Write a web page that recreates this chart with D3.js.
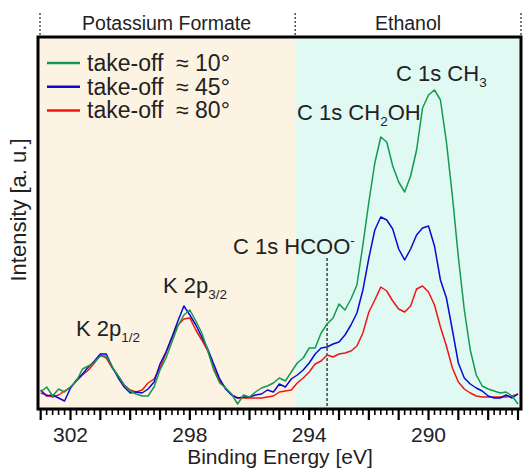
<!DOCTYPE html>
<html><head><meta charset="utf-8">
<script src="https://cdn.jsdelivr.net/npm/d3@7"></script>
<style>
html,body{margin:0;padding:0;background:#fff;}
svg{display:block;font-family:"Liberation Sans",Arial,sans-serif;}
</style></head>
<body><svg id="c" width="525" height="471"></svg>
<script>
// Binding energy grid (eV), 0.2 eV steps from 303.0 to 287.0
const energy = d3.range(0, 81).map(i => +(303.0 - 0.2 * i).toFixed(1));
const green10 = [17,22,13,20,17,22,28,40,43,47,53,53,42,33,24,18,15,13,13,22,39,51,67,83,94,99,88,76,59,39,26,21,15,5,14,12,17,21,23,26,31,28,37,46,51,61,61,76,85,91,105,99,110,124,164,207,246,272,267,243,227,217,233,259,301,314,319,309,267,213,152,99,59,34,23,20,18,16,17,13,5];
const blue45 = [19,13,14,11,8,21,29,35,42,48,55,55,42,31,22,16,17,16,20,27,45,57,72,88,103,94,84,72,60,45,30,20,14,11,12,12,14,15,19,17,25,22,30,34,39,46,55,61,62,65,67,74,84,96,119,151,179,192,189,180,160,149,160,174,181,183,163,129,111,79,46,31,25,21,18,13,11,11,14,11,15];
const red80 = [16,14,12,14,18,22,28,34,39,46,54,51,41,33,24,19,17,19,26,30,41,56,71,84,90,91,79,69,58,41,28,21,14,11,11,11,11,11,12,13,17,18,19,26,31,37,45,48,54,52,55,56,58,63,76,97,109,122,118,108,100,97,103,120,123,117,104,82,63,41,27,20,16,13,12,12,12,12,12,13,15];
const seriesNames = ["take-off  \u2248 10\u00b0","take-off  \u2248 45\u00b0","take-off  \u2248 80\u00b0"];
const seriesColors = ["#139a4f","#0a0ad0","#f01414"];
const tickLabels = [302, 298, 294, 290];
const regionNames = ["Potassium Formate", "Ethanol"];
const regionBounds = [303.09, 294.47, 286.9];
const hcooEnergy = 293.40;

const svg = d3.select("#c");
const L = 38, R = 521, T = 37, B = 409;
const x = d3.scaleLinear().domain([303.09, 286.9]).range([L, R]);
const y = d3.scaleLinear().domain([0, 372]).range([B, T]);

// regions
const regionFill = ["#fdf3e3", "#e0faf3"];
regionNames.forEach((n, i) => {
  svg.append("rect").attr("x", x(regionBounds[i])).attr("y", T)
    .attr("width", x(regionBounds[i+1]) - x(regionBounds[i])).attr("height", B - T)
    .attr("fill", regionFill[i]);
  svg.append("text").attr("x", (x(regionBounds[i]) + x(regionBounds[i+1])) / 2).attr("y", 30)
    .attr("text-anchor", "middle").attr("font-size", 19.5).attr("fill", "#222").text(n);
});
regionBounds.forEach((b, i) => {
  const xx = i === 0 ? L + 2 : x(b);
  svg.append("line").attr("x1", xx).attr("x2", xx).attr("y1", 13).attr("y2", T)
    .attr("stroke", "#333").attr("stroke-width", 1.3).attr("stroke-dasharray", "2,2");
});

// HCOO- dashed marker
svg.append("line").attr("x1", x(hcooEnergy)).attr("x2", x(hcooEnergy)).attr("y1", 258).attr("y2", B)
  .attr("stroke", "#333").attr("stroke-width", 1.4).attr("stroke-dasharray", "3,2");

// curves
const data = [green10, blue45, red80];
const line = d3.line().x((d, i) => x(energy[i])).y(d => y(d));
[2, 1, 0].forEach(k => {
  svg.append("path").datum(data[k]).attr("d", line).attr("fill", "none")
    .attr("stroke", seriesColors[k]).attr("stroke-width", 1.5).attr("stroke-linejoin", "round");
});

// frame
svg.append("rect").attr("x", L).attr("y", T).attr("width", R - L).attr("height", B - T)
  .attr("fill", "none").attr("stroke", "#000").attr("stroke-width", 3);

// ticks
const minor = d3.range(0, 81).map(i => 303.0 - 0.2 * i).filter(v => v >= 286.9);
const g = svg.append("g");
minor.forEach(v => {
  const isMajor = Math.abs(v - Math.round(v)) < 1e-6;
  g.append("line").attr("x1", x(v)).attr("x2", x(v)).attr("y1", B + 1).attr("y2", B + (isMajor ? 11 : 6))
    .attr("stroke", "#000").attr("stroke-width", isMajor ? 2.2 : 1.6);
});
tickLabels.forEach(v => {
  g.append("text").attr("x", x(v)).attr("y", 442).attr("text-anchor", "middle")
    .attr("font-size", 21).attr("fill", "#222").text(v);
});
svg.append("text").attr("x", 280).attr("y", 464).attr("text-anchor", "middle")
  .attr("font-size", 21).attr("fill", "#222").text("Binding Energy [eV]");
svg.append("text").attr("transform", "translate(26,210) rotate(-90)").attr("text-anchor", "middle")
  .attr("font-size", 22).attr("fill", "#222").text("Intensity [a. u.]");

// legend
seriesNames.forEach((n, i) => {
  const yy = 63 + i * 23.7;
  svg.append("line").attr("x1", 47).attr("x2", 80).attr("y1", yy).attr("y2", yy)
    .attr("stroke", seriesColors[i]).attr("stroke-width", 2.5);
  svg.append("text").attr("x", 87).attr("y", yy + 8).attr("font-size", 23).attr("fill", "#222")
    .attr("xml:space", "preserve").style("white-space", "pre").text(n);
});

// peak labels
function label(xx, yy, parts) {
  const t = svg.append("text").attr("x", xx).attr("y", yy).attr("font-size", 22).attr("fill", "#222");
  parts.forEach(p => {
    const s = t.append("tspan").text(p[0]);
    if (p[1] === "sub") s.attr("font-size", 13.5).attr("dy", 6);
    else if (p[1] === "sup") s.attr("font-size", 13.5).attr("dy", -9);
    else if (p[1] === "back") s.attr("dy", -6);
  });
}
label(396, 81, [["C 1s CH"], ["3", "sub"]]);
label(297, 120, [["C 1s CH"], ["2", "sub"], ["OH", "back"]]);
label(233, 254, [["C 1s HCOO"], ["-", "sup"]]);
label(163, 293, [["K 2p"], ["3/2", "sub"]]);
label(76, 336, [["K 2p"], ["1/2", "sub"]]);
</script></body></html>
